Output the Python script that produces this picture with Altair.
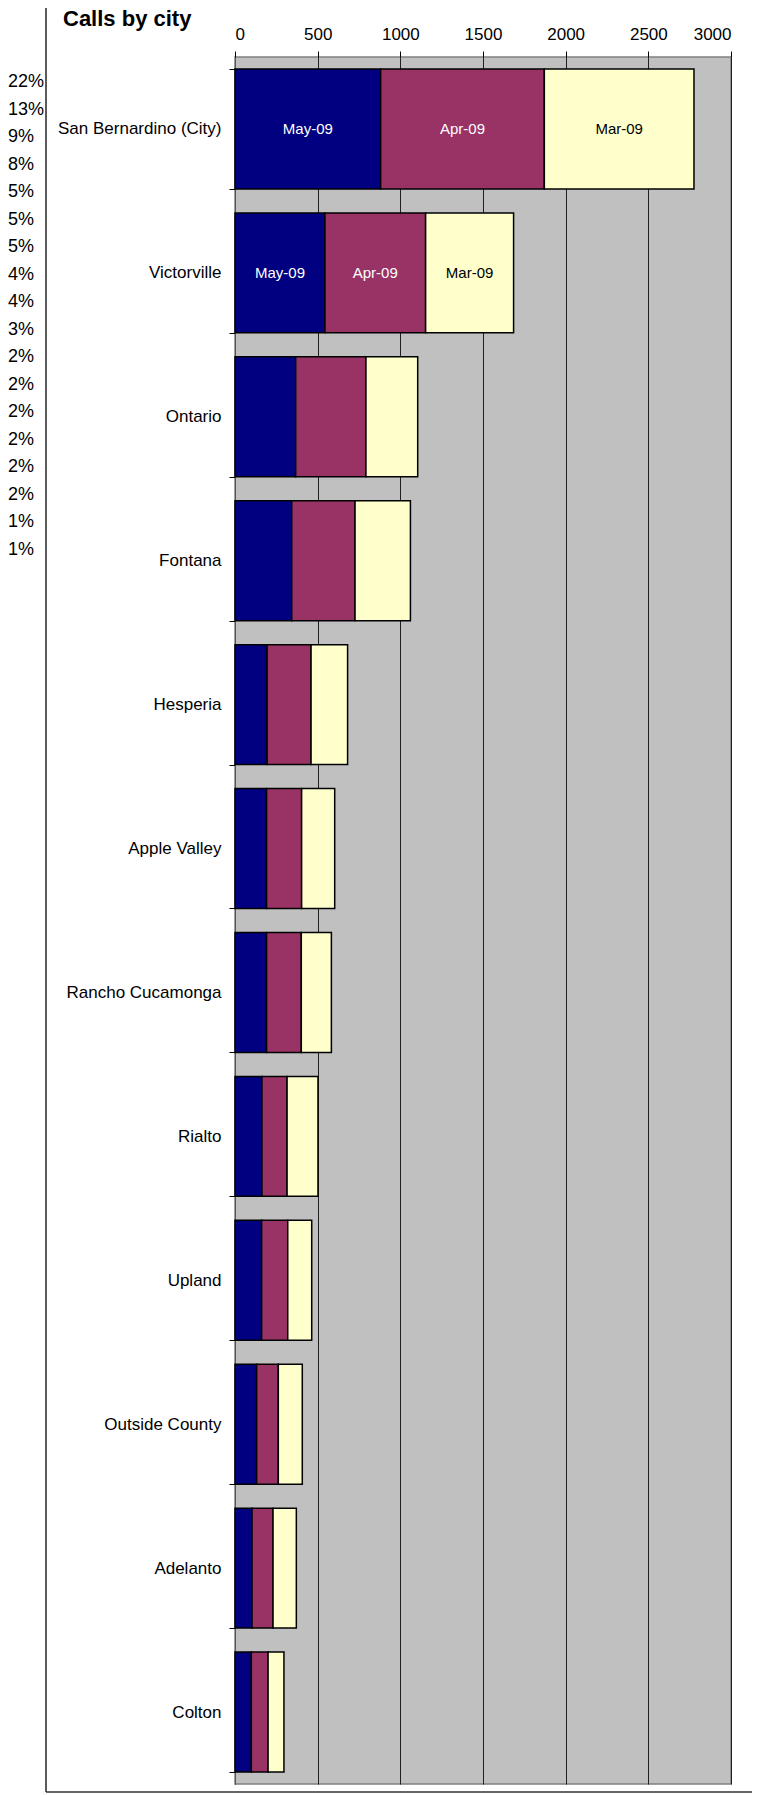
import altair as alt
import pandas as pd

# ---- data ----
cities = ["San Bernardino (City)", "Victorville", "Ontario", "Fontana", "Hesperia",
          "Apple Valley", "Rancho Cucamonga", "Rialto", "Upland", "Outside County",
          "Adelanto", "Colton"]
months = ["May-09", "Apr-09", "Mar-09"]
may_09 = [881, 544, 367, 343, 194, 191, 191, 163, 161, 131, 103, 99]
apr_09 = [990, 609, 425, 383, 266, 212, 210, 152, 158, 131, 127, 101]
mar_09 = [905, 532, 313, 335, 221, 200, 182, 187, 145, 145, 141, 96]
labeled_cities = ["San Bernardino (City)", "Victorville"]
percents = ["22%", "13%", "9%", "8%", "5%", "5%", "5%", "4%", "4%", "3%",
            "2%", "2%", "2%", "2%", "2%", "2%", "1%", "1%"]
x_ticks = [0, 500, 1000, 1500, 2000, 2500, 3000]
title_text = "Calls by city"

colors = ["#000080", "#993366", "#FFFFCC"]
FONT = "Liberation Sans"

rows = []
for series, vals in zip(months, [may_09, apr_09, mar_09]):
    for c, v in zip(cities, vals):
        rows.append({"city": c, "month": series, "value": v, "order": months.index(series)})
df = pd.DataFrame(rows)

pct_df = pd.DataFrame({"idx": list(range(len(percents))), "pct": percents})

base = alt.Chart(df).transform_stack(
    stack="value", groupby=["city"], sort=[alt.SortField("order")], as_=["x0", "x1"]
).transform_calculate(mid="(datum.x0 + datum.x1) / 2")

x_scale = alt.Scale(domain=[0, 3000], nice=False, zero=True)
y_scale = alt.Scale(domain=cities, paddingInner=0.167, paddingOuter=0.0835)

y_axis = alt.Axis(labelFont=FONT, labelFontSize=17, labelColor="black",
                  tickBand="extent", tickSize=6, tickColor="black",
                  labelPadding=8, domainColor="#555555", grid=False,
                  labelLimit=300)

bars = base.mark_bar(stroke="black", strokeWidth=1.5).encode(
    y=alt.Y("city:N", sort=cities, scale=y_scale, title=None, axis=y_axis),
    x=alt.X("x0:Q", scale=x_scale, title=None,
            axis=alt.Axis(orient="top", values=x_ticks, format="d", labelFont=FONT,
                          labelFontSize=17, labelColor="black", tickSize=6,
                          tickColor="black", labelPadding=8, domain=False, grid=True,
                          gridColor="#202020", gridWidth=1, gridOpacity=1)),
    x2="x1:Q",
    color=alt.Color("month:N", scale=alt.Scale(domain=months, range=colors), legend=None),
)

bar_labels = base.transform_filter(
    alt.FieldOneOfPredicate(field="city", oneOf=labeled_cities)
).mark_text(font=FONT, fontSize=15, baseline="middle", align="center").encode(
    y=alt.Y("city:N", sort=cities, scale=y_scale, title=None, axis=y_axis),
    x=alt.X("mid:Q", scale=x_scale, title=None),
    text="month:N",
    color=alt.condition(alt.datum.month == "Mar-09", alt.value("black"), alt.value("white")),
)

main = alt.layer(bars, bar_labels)

pct_layer = alt.Chart(pct_df).mark_text(
    font=FONT, fontSize=18, align="left", baseline="middle", color="black"
).encode(
    y=alt.Y("idx:O", scale=alt.Scale(type="point", range=[25, 492.7], padding=0), axis=None),
    x=alt.value(-227),
    text="pct:N",
)

title_layer = alt.Chart(pd.DataFrame({"t": [title_text]})).mark_text(
    font=FONT, fontSize=22, fontWeight="bold", align="left", baseline="alphabetic",
    color="black"
).encode(x=alt.value(-172), y=alt.value(-31), text="t:N")

one = pd.DataFrame({"a": [0]})
frame_left = alt.Chart(one).mark_rule(color="#333333", strokeWidth=1.6).encode(
    x=alt.value(-189), y=alt.value(-49), y2=alt.value(1735))
frame_bottom = alt.Chart(one).mark_rule(color="#333333", strokeWidth=1.6).encode(
    x=alt.value(-189), x2=alt.value(517), y=alt.value(1735))

chart = alt.layer(main, pct_layer, title_layer, frame_left, frame_bottom).resolve_scale(
    y="independent"
).properties(
    width=496, height=1727,
    padding={"left": 227, "top": 49, "right": 21, "bottom": 10},
    autosize=alt.AutoSizeParams(type="none"),
).configure_view(
    fill="#C0C0C0", stroke="#808080", strokeWidth=1.5
)

chart.save("out.html", embed_options={"renderer": "svg", "actions": False})
